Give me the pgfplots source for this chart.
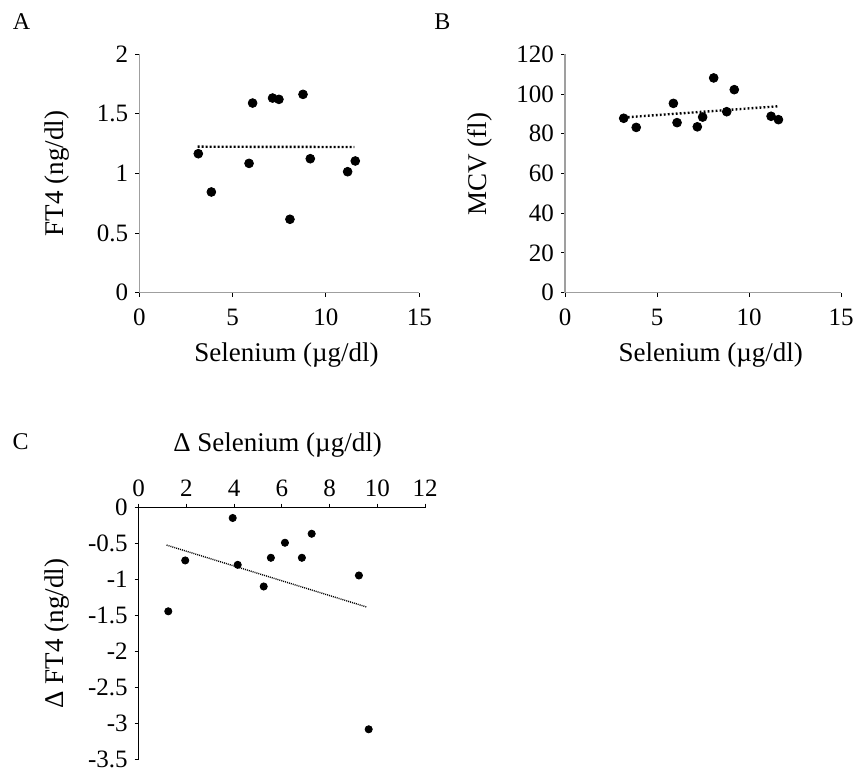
\documentclass[border=0pt]{standalone}
\usepackage{pgfplots}
\pgfplotsset{compat=1.18}
\usepackage{fontspec}
\setmainfont{Liberation Serif}

% panels drawn at 0.5pt per pixel of the reference
\pgfplotsset{
  panel/.style={
    scale only axis,
    axis x line*=bottom, axis y line*=left,
    axis line style={-, gray!75, line width=0.6pt},
    tick align=outside, major tick length=2pt,
    tick style={black, line width=0.5pt},
    /pgf/number format/assume math mode=true,
    ticklabel style={font=\fontsize{12.5}{14}\selectfont},
    label style={font=\fontsize{13.5}{15}\selectfont},
    clip=false,
  },
  dots/.style={only marks, mark=*, mark size=2.2pt, black},
  trend/.style={no marks, black, line width=1.2pt, dash pattern=on 0.9pt off 1.1pt},
}

\begin{document}
\begin{tikzpicture}
\path[use as bounding box] (0,0) rectangle (428pt,383.5pt);

\node[font=\fontsize{12}{14}\selectfont] at (10.8pt,372.6pt) {A};
\node[font=\fontsize{12}{14}\selectfont] at (221.2pt,372.6pt) {B};
\node[font=\fontsize{12}{14}\selectfont] at (10.3pt,162.7pt) {C};

% A
\begin{axis}[panel,
  at={(69.65pt,237.15pt)}, anchor=south west,
  width=140pt, height=119.2pt,
  xmin=0, xmax=15, ymin=0, ymax=2,
  xtick={0,5,10,15}, ytick={0,0.5,1,1.5,2},
  xticklabel style={yshift=-2.5pt},
  xlabel={Selenium (µg/dl)}, ylabel={FT4 (ng/dl)},
  xlabel style={at={(axis description cs:0.526,-0.261)}, anchor=center},
  ylabel style={at={(axis description cs:-0.295,0.5)}, anchor=center},
]
\addplot[dots] coordinates {
  (3.16,1.166) (3.86,0.845) (5.88,1.085) (6.07,1.591) (7.14,1.633)
  (7.48,1.622) (8.07,0.616) (8.77,1.664) (9.16,1.124) (11.16,1.015)
  (11.57,1.105)};
\addplot[trend] coordinates {(3.13,1.225) (11.52,1.222)};
\end{axis}

% B
\begin{axis}[panel,
  at={(282.5pt,237.15pt)}, anchor=south west,
  width=138pt, height=119.2pt,
  xmin=0, xmax=15, ymin=0, ymax=120,
  xtick={0,5,10,15}, ytick={0,20,...,120},
  xticklabel style={yshift=-2.5pt},
  xlabel={Selenium (µg/dl)}, ylabel={MCV (fl)},
  xlabel style={at={(axis description cs:0.528,-0.261)}, anchor=center},
  ylabel style={at={(axis description cs:-0.308,0.54)}, anchor=center},
]
\addplot[dots] coordinates {
  (3.19,87.8) (3.87,83.2) (5.89,95.3) (6.09,85.6) (7.19,83.5)
  (7.48,88.4) (8.08,108.1) (8.79,91.1) (9.20,102.2) (11.2,88.8)
  (11.6,87.1)};
\addplot[trend] coordinates {(3.2,88.2) (11.55,93.8)};
\end{axis}

% C
\begin{axis}[panel,
  at={(69.35pt,3.75pt)}, anchor=south west,
  width=143.15pt, height=125.9pt,
  axis x line*=top, axis line style={black},
  xmin=0, xmax=12, ymin=-3.5, ymax=0,
  xtick={0,2,...,12}, ytick={-3.5,-3,...,0},
  xlabel={Δ Selenium (µg/dl)}, ylabel={Δ FT4 (ng/dl)},
  xlabel style={at={(axis description cs:0.485,1.249)}, anchor=center},
  ylabel style={at={(axis description cs:-0.286,0.5)}, anchor=center},
]
\addplot[dots, mark size=1.8pt] coordinates {
  (1.24,-1.44) (1.95,-0.733) (3.94,-0.143) (4.15,-0.794) (5.24,-1.095)
  (5.54,-0.696) (6.13,-0.487) (6.84,-0.696) (7.25,-0.362) (9.23,-0.942)
  (9.64,-3.08)};
\addplot[no marks, black, line width=0.7pt, dash pattern=on 0.5pt off 0.5pt]
  coordinates {(1.17,-0.52) (9.55,-1.38)};
\end{axis}
\end{tikzpicture}
\end{document}
